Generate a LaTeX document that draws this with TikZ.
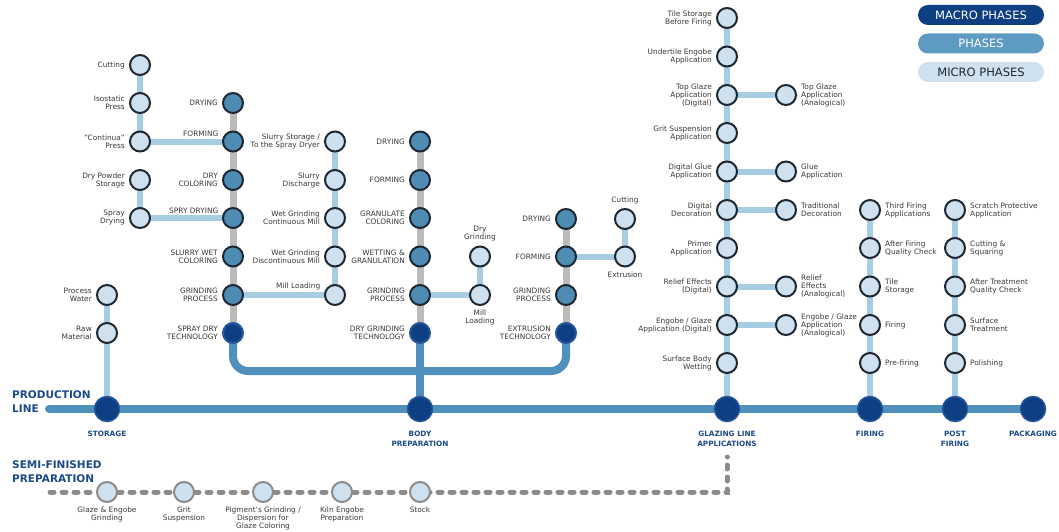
\documentclass[tikz,border=0pt]{standalone}
\usepackage{fontspec}
\setmainfont{DejaVu Sans}
\usetikzlibrary{backgrounds}

\definecolor{navy}{HTML}{0D3F82}
\definecolor{navyrim}{HTML}{24589A}
\definecolor{phasefill}{HTML}{4E8CB3}
\definecolor{pillphase}{HTML}{5E9BC2}
\definecolor{microfill}{HTML}{CFE1EF}
\definecolor{rim}{HTML}{1D2731}
\definecolor{mainblue}{HTML}{5090BD}
\definecolor{lightblue}{HTML}{A7CDE4}
\definecolor{graylink}{HTML}{BBBBBB}
\definecolor{semigray}{HTML}{8C8C8C}
\definecolor{labeltext}{HTML}{383838}
\definecolor{headblue}{HTML}{1B4A86}

\tikzset{
  macro/.style={circle,fill=navy,draw=navyrim,line width=1.5pt,minimum size=25pt,inner sep=0pt},
  tech/.style={circle,fill=navy,draw=navyrim,line width=2pt,minimum size=20pt,inner sep=0pt},
  phase/.style={circle,fill=phasefill,draw=rim,line width=2pt,minimum size=20pt,inner sep=0pt},
  micro/.style={circle,fill=microfill,draw=rim,line width=2pt,minimum size=20pt,inner sep=0pt},
  semi/.style={micro,draw=semigray},
  pill/.style={rounded corners=10pt,minimum width=126pt,minimum height=20pt,inner sep=0pt,
    font=\fontsize{11.5}{12}\selectfont},
  heading/.style={anchor=west,align=left,inner sep=0pt,text=headblue,
    font=\fontsize{10.5}{14}\selectfont\bfseries},
  lbl/.style={inner sep=1pt,text=labeltext,font=\fontsize{7.4}{8}\selectfont},
  boldlbl/.style={inner sep=1pt,text=headblue,font=\fontsize{7.3}{10}\selectfont\bfseries},
  lleft/.style={label={[lbl,align=right]left:{#1}}},
  lright/.style={label={[lbl,align=left]right:{#1}}},
  labove/.style={label={[lbl,align=center]above:{#1}}},
  lbelow/.style={label={[lbl,align=center]below:{#1}}},
  lupleft/.style={label={[lbl,align=right,anchor=south east]165:{#1}}},
  macrobelow/.style={label={[boldlbl,align=center,yshift=-5pt]below:{#1}}},
  mainline/.style={draw=mainblue,line width=8pt,line cap=round,shorten <=-5pt,shorten >=-5pt},
  microline/.style={draw=lightblue,line width=6pt,shorten <=-5pt,shorten >=-5pt},
  phaseline/.style={draw=graylink,line width=7pt,shorten <=-5pt,shorten >=-5pt},
  semiline/.style={draw=semigray,line width=5pt,line cap=round,dash pattern=on 4pt off 8pt,
    shorten <=-5pt,shorten >=-5pt}
}

\begin{document}
\begin{tikzpicture}[x=1pt,y=-1pt,label distance=3pt]
  \useasboundingbox (0,0) rectangle (1059,532);

  % legend
  \node[pill,fill=navy,text=white] (legMacro) at (981,15) {MACRO PHASES};
  \node[pill,fill=pillphase,text=white] (legPhase) at (981,43.5) {PHASES};
  \node[pill,fill=microfill,text=rim] (legMicro) at (981,72) {MICRO PHASES};

  \node[heading] (prodTitle) at (12,402) {PRODUCTION\\LINE};
  \node[heading] (semiTitle) at (12,472) {SEMI-FINISHED\\PREPARATION};

  % production line
  \coordinate (lineStart) at (54,409);
  \node[macro,macrobelow={STORAGE}] (st) at (107,409) {};
  \node[macro,macrobelow={BODY\\PREPARATION}] (bp) at (420,409) {};
  \node[macro,macrobelow={GLAZING LINE\\APPLICATIONS}] (gl) at (727,409) {};
  \node[macro,macrobelow={FIRING}] (fi) at (870,409) {};
  \node[macro,macrobelow={POST\\FIRING}] (pf) at (955,409) {};
  \node[macro,macrobelow={PACKAGING}] (pk) at (1033,409) {};

  % storage
  \node[micro,lleft={Process\\Water}] (pw) at (107,295) {};
  \node[micro,lleft={Raw\\Material}] (rm) at (107,333) {};

  % spray dry technology
  \node[micro,lleft={Cutting}] (cut1) at (140,65) {};
  \node[micro,lleft={Isostatic\\Press}] (isp) at (140,103) {};
  \node[micro,lleft={“Continua”\\Press}] (cpr) at (140,141.5) {};
  \node[micro,lleft={Dry Powder\\Storage}] (dps) at (140,180) {};
  \node[micro,lleft={Spray\\Drying}] (sprd) at (140,218) {};

  \node[phase,lleft={DRYING}] (dry1) at (233,103) {};
  \node[phase,lupleft={FORMING}] (frm1) at (233,141.5) {};
  \node[phase,lleft={DRY\\COLORING}] (dcol) at (233,180) {};
  \node[phase,lupleft={SPRY DRYING}] (spd) at (233,218) {};
  \node[phase,lleft={SLURRY WET\\COLORING}] (swc) at (233,256.5) {};
  \node[phase,lleft={GRINDING\\PROCESS}] (gp1) at (233,295) {};
  \node[tech,lleft={SPRAY DRY\\TECHNOLOGY}] (sdt) at (233,333) {};

  \node[micro,lleft={Slurry Storage /\\To the Spray Dryer}] (sst) at (335,141.5) {};
  \node[micro,lleft={Slurry\\Discharge}] (sdc) at (335,180) {};
  \node[micro,lleft={Wet Grinding\\Continuous Mill}] (wgc) at (335,218) {};
  \node[micro,lleft={Wet Grinding\\Discontinuous Mill}] (wgd) at (335,256.5) {};
  \node[micro,lupleft={Mill Loading}] (mld1) at (335,295) {};

  % dry grinding technology
  \node[phase,lleft={DRYING}] (dry2) at (420,141.5) {};
  \node[phase,lleft={FORMING}] (frm2) at (420,180) {};
  \node[phase,lleft={GRANULATE\\COLORING}] (gcol) at (420,218) {};
  \node[phase,lleft={WETTING \&\\GRANULATION}] (wgr) at (420,256.5) {};
  \node[phase,lleft={GRINDING\\PROCESS}] (gp2) at (420,295) {};
  \node[tech,lleft={DRY GRINDING\\TECHNOLOGY}] (dgt) at (420,333) {};
  \coordinate (join) at (420,371);

  \node[micro,labove={Dry\\Grinding}] (dgr) at (480,256.5) {};
  \node[micro,lbelow={Mill\\Loading}] (mld2) at (480,295) {};

  % extrusion technology
  \node[phase,lleft={DRYING}] (dry3) at (566,219) {};
  \node[phase,lleft={FORMING}] (frm3) at (566,256.5) {};
  \node[phase,lleft={GRINDING\\PROCESS}] (gp3) at (566,295) {};
  \node[tech,lleft={EXTRUSION\\TECHNOLOGY}] (ext) at (566,333) {};

  \node[micro,labove={Cutting}] (cut2) at (625,219) {};
  \node[micro,lbelow={Extrusion}] (exm) at (625,256.5) {};

  % glazing line
  \node[micro,lleft={Tile Storage\\Before Firing}] (tsf) at (727,18) {};
  \node[micro,lleft={Undertile Engobe\\Application}] (uea) at (727,56.5) {};
  \node[micro,lleft={Top Glaze\\Application\\(Digital)}] (tgd) at (727,95) {};
  \node[micro,lleft={Grit Suspension\\Application}] (gsa) at (727,133) {};
  \node[micro,lleft={Digital Glue\\Application}] (dgl) at (727,171.5) {};
  \node[micro,lleft={Digital\\Decoration}] (ddc) at (727,210) {};
  \node[micro,lleft={Primer\\Application}] (pra) at (727,248) {};
  \node[micro,lleft={Relief Effects\\(Digital)}] (red) at (727,286.5) {};
  \node[micro,lleft={Engobe / Glaze\\Application (Digital)}] (egd) at (727,325) {};
  \node[micro,lleft={Surface Body\\Wetting}] (sbw) at (727,363) {};

  \node[micro,lright={Top Glaze\\Application\\(Analogical)}] (tga) at (786,95) {};
  \node[micro,lright={Glue\\Application}] (gla) at (786,171.5) {};
  \node[micro,lright={Traditional\\Decoration}] (tdc) at (786,210) {};
  \node[micro,lright={Relief\\Effects\\(Analogical)}] (rea) at (786,286.5) {};
  \node[micro,lright={Engobe / Glaze\\Application\\(Analogical)}] (ega) at (786,325) {};

  % firing
  \node[micro,lright={Third Firing\\Applications}] (tfa) at (870,210) {};
  \node[micro,lright={After Firing\\Quality Check}] (afq) at (870,248) {};
  \node[micro,lright={Tile\\Storage}] (tst) at (870,286.5) {};
  \node[micro,lright={Firing}] (frg) at (870,325) {};
  \node[micro,lright={Pre-firing}] (prf) at (870,363) {};

  % post firing
  \node[micro,lright={Scratch Protective\\Application}] (spa) at (955,210) {};
  \node[micro,lright={Cutting \&\\Squaring}] (csq) at (955,248) {};
  \node[micro,lright={After Treatment\\Quality Check}] (atq) at (955,286.5) {};
  \node[micro,lright={Surface\\Treatment}] (stt) at (955,325) {};
  \node[micro,lright={Polishing}] (pol) at (955,363) {};

  % semi-finished preparation
  \coordinate (sfStart) at (50,492);
  \node[semi,lbelow={Glaze \& Engobe\\Grinding}] (ggr) at (107,492) {};
  \node[semi,lbelow={Grit\\Suspension}] (grs) at (184,492) {};
  \node[semi,lbelow={Pigment’s Grinding /\\Dispersion for\\Glaze Coloring}] (pgd) at (263,492) {};
  \node[semi,lbelow={Kiln Engobe\\Preparation}] (kep) at (342,492) {};
  \node[semi,lbelow={Stock}] (stk) at (420,492) {};
  \coordinate (sfEnd) at (727,462);

  \begin{scope}[on background layer]

    \begin{scope}[every edge/.style={mainline}]
      \path (lineStart) edge (st);
      \path (st)  edge (bp);
      \path (bp)  edge (gl);
      \path (gl)  edge (fi);
      \path (fi)  edge (pf);
      \path (pf)  edge (pk);
      \path (dgt) edge (bp);
    \end{scope}
    \draw[mainline,rounded corners=15pt] (sdt) |- (join) -| (ext);

    \begin{scope}[every edge/.style={phaseline}]
      \path (dry1) edge (sdt);
      \path (dry2) edge (dgt);
      \path (dry3) edge (ext);
    \end{scope}

    \begin{scope}[every edge/.style={microline}]
      \path (pw)   edge (st);
      \path (cut1) edge (cpr);
      \path (dps)  edge (sprd);
      \path (cpr)  edge (frm1);
      \path (sprd) edge (spd);
      \path (sst)  edge (mld1);
      \path (gp1)  edge (mld1);
      \path (dgr)  edge (mld2);
      \path (gp2)  edge (mld2);
      \path (cut2) edge (exm);
      \path (frm3) edge (exm);
      \path (tsf)  edge (gl);
      \path (tgd)  edge (tga);
      \path (dgl)  edge (gla);
      \path (ddc)  edge (tdc);
      \path (red)  edge (rea);
      \path (egd)  edge (ega);
      \path (tfa)  edge (fi);
      \path (spa)  edge (pf);
    \end{scope}

    \draw[semiline] (sfStart) -- (ggr) -- (grs) -- (pgd) -- (kep) -- (stk) -| (sfEnd);
  \end{scope}

\end{tikzpicture}
\end{document}
